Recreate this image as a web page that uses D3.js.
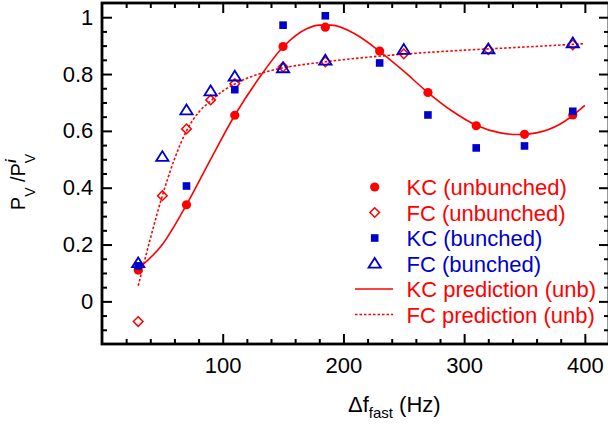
<!DOCTYPE html>
<html>
<head>
<meta charset="utf-8">
<script src="https://cdn.jsdelivr.net/npm/d3@7"></script>
<style>
  html, body { margin: 0; padding: 0; background: #fff; }
  svg { display: block; font-family: "Liberation Sans", Arial, Helvetica, sans-serif; }
</style>
</head>
<body>
<svg id="chart" width="608" height="424"></svg>
<script>
// measured points
const kcX = [30, 70, 110, 150, 185, 230, 270, 310, 350, 390];
const kcUnbunched = [0.11, 0.34, 0.655, 0.897, 0.965, 0.881, 0.735, 0.618, 0.588, 0.656];
const kcBunched = [0.125, 0.406, 0.745, 0.972, 1.005, 0.839, 0.656, 0.54, 0.547, 0.669];

const fcX = [30, 50, 70, 90, 110, 150, 185, 250, 320, 390];
const fcUnbunched = [-0.071, 0.372, 0.607, 0.709, 0.766, 0.825, 0.843, 0.871, 0.886, 0.903];
const fcBunched = [0.135, 0.509, 0.673, 0.74, 0.792, 0.821, 0.848, 0.886, 0.888, 0.909];

// prediction curves
const kcPredX = [30, 50, 70, 90, 110, 130, 150, 170, 180, 190, 210, 230, 250, 270, 290, 310, 330, 345, 360, 380, 400];
const kcPredY = [0.115, 0.2, 0.34, 0.5, 0.655, 0.785, 0.895, 0.96, 0.972, 0.972, 0.94, 0.88, 0.81, 0.735, 0.67, 0.62, 0.593, 0.587, 0.593, 0.625, 0.69];
const fcPredX = [30, 40, 50, 60, 70, 80, 90, 100, 110, 120, 130, 150, 170, 185, 210, 250, 300, 350, 400];
const fcPredY = [0.055, 0.22, 0.372, 0.5, 0.6, 0.665, 0.705, 0.74, 0.765, 0.785, 0.8, 0.822, 0.835, 0.843, 0.855, 0.87, 0.884, 0.895, 0.907];

const xMajor = [100, 200, 300, 400];
const yMajor = [0, 0.2, 0.4, 0.6, 0.8, 1];

const legendItems = [
  { label: "KC (unbunched)", kind: "circle", color: "red" },
  { label: "FC (unbunched)", kind: "diamond", color: "red" },
  { label: "KC (bunched)", kind: "square", color: "blue" },
  { label: "FC (bunched)", kind: "triangle", color: "blue" },
  { label: "KC prediction (unb)", kind: "line", color: "red" },
  { label: "FC prediction (unb)", kind: "dotted", color: "red" }
];

const RED = "#ff0000";
const BLUE = "#0000cc";
const colorOf = { red: RED, blue: BLUE };

const svg = d3.select("#chart");
const plotL = 102, plotR = 609, plotT = 3, plotB = 344;

const x = d3.scaleLinear().domain([0, 420]).range([plotL, plotR]);
const y = d3.scaleLinear().domain([-0.15, 1.05]).range([plotB, plotT]);

const xMinor = d3.range(20, 420, 20).filter((v) => v % 100 !== 0);
const yMinor = d3.range(-0.1, 1.05, 0.05).map((v) => +v.toFixed(2)).filter((v) => !yMajor.includes(v));

function styleAxis(g) {
  g.select(".domain").remove();
  g.selectAll(".tick line").attr("stroke", "#000").attr("stroke-width", 2);
  g.selectAll(".tick text").attr("fill", "#000").attr("font-size", 22);
}

// bottom / top
svg.append("g").attr("transform", `translate(0,${plotB})`)
  .call(d3.axisBottom(x).tickValues(xMajor).tickSize(-10).tickPadding(13.4).tickFormat(d3.format("d")))
  .call(styleAxis);
svg.append("g").attr("transform", `translate(0,${plotB})`)
  .call(d3.axisBottom(x).tickValues(xMinor).tickSize(-5).tickFormat(""))
  .call(styleAxis);
svg.append("g").attr("transform", `translate(0,${plotT})`)
  .call(d3.axisTop(x).tickValues(xMajor).tickSize(-10).tickFormat(""))
  .call(styleAxis);
svg.append("g").attr("transform", `translate(0,${plotT})`)
  .call(d3.axisTop(x).tickValues(xMinor).tickSize(-5).tickFormat(""))
  .call(styleAxis);

// left / right
svg.append("g").attr("transform", `translate(${plotL},0)`)
  .call(d3.axisLeft(y).tickValues(yMajor).tickSize(-10).tickPadding(8.7).tickFormat(d3.format("~g")))
  .call(styleAxis);
svg.append("g").attr("transform", `translate(${plotL},0)`)
  .call(d3.axisLeft(y).tickValues(yMinor).tickSize(-5).tickFormat(""))
  .call(styleAxis);
svg.append("g").attr("transform", `translate(${plotR},0)`)
  .call(d3.axisRight(y).tickValues(yMajor).tickSize(-10).tickFormat(""))
  .call(styleAxis);
svg.append("g").attr("transform", `translate(${plotR},0)`)
  .call(d3.axisRight(y).tickValues(yMinor).tickSize(-5).tickFormat(""))
  .call(styleAxis);

svg.append("rect")
  .attr("x", plotL).attr("y", plotT)
  .attr("width", plotR - plotL).attr("height", plotB - plotT)
  .attr("fill", "none").attr("stroke", "#000").attr("stroke-width", 2.8);

// curves
const line = d3.line().x((d) => x(d[0])).y((d) => y(d[1])).curve(d3.curveMonotoneX);

svg.append("path")
  .datum(fcPredX.map((v, i) => [v, fcPredY[i]]))
  .attr("d", line)
  .attr("fill", "none").attr("stroke", RED).attr("stroke-width", 1.6)
  .attr("stroke-dasharray", "2.5,2");

svg.append("path")
  .datum(kcPredX.map((v, i) => [v, kcPredY[i]]))
  .attr("d", line)
  .attr("fill", "none").attr("stroke", RED).attr("stroke-width", 1.6);

// markers
const diamond = (s) => `M0,${-s}L${s},0L0,${s}L${-s},0Z`;
const triangle = (s) => `M0,${-s}L${s * 1.1},${s * 0.75}L${-s * 1.1},${s * 0.75}Z`;

function drawMarker(g, kind, color) {
  if (kind === "circle") {
    g.append("circle").attr("r", 4.6).attr("fill", color);
  } else if (kind === "square") {
    g.append("rect").attr("x", -3.8).attr("y", -3.8).attr("width", 7.6).attr("height", 7.6).attr("fill", color);
  } else if (kind === "diamond") {
    g.append("path").attr("d", diamond(4.8)).attr("fill", "none").attr("stroke", color).attr("stroke-width", 1.5);
  } else if (kind === "triangle") {
    g.append("path").attr("d", triangle(5.6)).attr("fill", "none").attr("stroke", color).attr("stroke-width", 1.8);
  }
}

function drawSeries(xs, ys, kind, color) {
  svg.append("g").selectAll("g")
    .data(xs.map((v, i) => [v, ys[i]]))
    .enter()
    .append("g")
    .attr("transform", (d) => `translate(${x(d[0])},${y(d[1])})`)
    .each(function () { drawMarker(d3.select(this), kind, color); });
}

drawSeries(kcX, kcUnbunched, "circle", RED);
drawSeries(fcX, fcUnbunched, "diamond", RED);
drawSeries(kcX, kcBunched, "square", BLUE);
drawSeries(fcX, fcBunched, "triangle", BLUE);

// legend
const legend = svg.append("g");
legendItems.forEach((d, i) => {
  const cy = 187 + i * 25.5;
  const c = colorOf[d.color];
  const row = legend.append("g").attr("transform", `translate(0,${cy})`);
  if (d.kind === "line" || d.kind === "dotted") {
    row.append("line").attr("x1", 355).attr("x2", 393)
      .attr("stroke", c).attr("stroke-width", 1.6)
      .attr("stroke-dasharray", d.kind === "dotted" ? "2.5,2" : null);
  } else {
    drawMarker(row.append("g").attr("transform", "translate(374.7,0)"), d.kind, c);
  }
  row.append("text").attr("x", 406.5).attr("y", 8).attr("font-size", 22).attr("fill", c).text(d.label);
});

// axis titles
const xt = svg.append("text").attr("x", 348).attr("y", 412).attr("font-size", 22).attr("fill", "#000");
xt.append("tspan").text("\u0394f");
xt.append("tspan").attr("font-size", 15).attr("dy", 6).text("fast");
xt.append("tspan").attr("dy", -6).text(" (Hz)");

const yt = svg.append("text")
  .attr("transform", "translate(25,182) rotate(-90)")
  .attr("text-anchor", "middle")
  .attr("font-size", 20).attr("fill", "#000");
yt.append("tspan").text("P");
yt.append("tspan").attr("font-size", 14).attr("dy", 10).text("V");
yt.append("tspan").attr("dy", -10).text(" /P");
yt.append("tspan").attr("font-size", 14).attr("font-style", "italic").attr("font-weight", "bold").attr("dy", -9).text("i");
yt.append("tspan").attr("font-size", 14).attr("dx", -4).attr("dy", 19).text("V");
</script>
</body>
</html>
